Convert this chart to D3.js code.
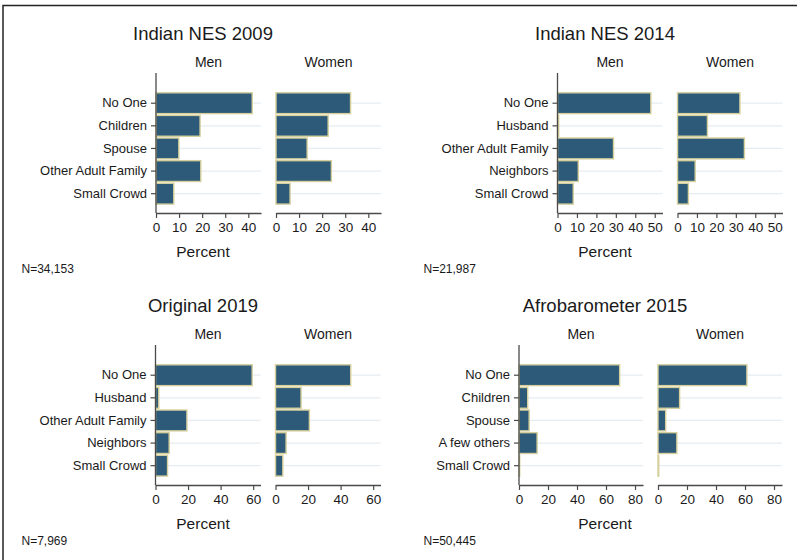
<!DOCTYPE html>
<html>
<head>
<meta charset="utf-8">
<script src="https://cdn.jsdelivr.net/npm/d3@7"></script>
<style>
  html, body { margin: 0; padding: 0; background: #fff; }
  svg { display: block; font-family: "Liberation Sans", Arial, Helvetica, sans-serif; }
</style>
</head>
<body>
<svg id="chart" width="797" height="560"></svg>
<script>
// Who was present during the interview, by survey and respondent sex (percent)
const surveyTitles = ["Indian NES 2009", "Indian NES 2014", "Original 2019", "Afrobarometer 2015"];
const sampleSizes = ["N=34,153", "N=21,987", "N=7,969", "N=50,445"];
const sexLabels = ["Men", "Women"];
const xAxisTitle = "Percent";

const nes2009Categories = ["No One", "Children", "Spouse", "Other Adult Family", "Small Crowd"];
const nes2009Men = [41.7, 19.1, 9.9, 19.4, 7.7];
const nes2009Women = [32.3, 22.6, 13.5, 24.0, 6.1];
const nes2009Ticks = [0, 10, 20, 30, 40];

const nes2014Categories = ["No One", "Husband", "Other Adult Family", "Neighbors", "Small Crowd"];
const nes2014Men = [48.0, 0.6, 28.8, 10.7, 8.1];
const nes2014Women = [32.1, 15.4, 34.4, 9.1, 5.6];
const nes2014Ticks = [0, 10, 20, 30, 40, 50];

const original2019Categories = ["No One", "Husband", "Other Adult Family", "Neighbors", "Small Crowd"];
const original2019Men = [59.4, 2.0, 19.3, 8.4, 7.4];
const original2019Women = [46.2, 15.7, 20.8, 6.5, 4.5];
const original2019Ticks = [0, 20, 40, 60];

const afro2015Categories = ["No One", "Children", "Spouse", "A few others", "Small Crowd"];
const afro2015Men = [69.4, 6.0, 7.0, 12.5, 0.5];
const afro2015Women = [61.3, 14.9, 5.3, 13.0, 0.5];
const afro2015Ticks = [0, 20, 40, 60, 80];

// Upper end of each survey's shared percent axis
const axisMax = [45.5, 54, 64.5, 85.5];

const surveys = [
  { title: surveyTitles[0], n: sampleSizes[0], cats: nes2009Categories, men: nes2009Men, women: nes2009Women, ticks: nes2009Ticks, max: axisMax[0] },
  { title: surveyTitles[1], n: sampleSizes[1], cats: nes2014Categories, men: nes2014Men, women: nes2014Women, ticks: nes2014Ticks, max: axisMax[1] },
  { title: surveyTitles[2], n: sampleSizes[2], cats: original2019Categories, men: original2019Men, women: original2019Women, ticks: original2019Ticks, max: axisMax[2] },
  { title: surveyTitles[3], n: sampleSizes[3], cats: afro2015Categories, men: afro2015Men, women: afro2015Women, ticks: afro2015Ticks, max: axisMax[3] }
];

// Placement of the four cells
const cells = [
  { left: 0,   top: 0,   plotLeft: 156,   subWidth: 105 },
  { left: 402, top: 0,   plotLeft: 557.5, subWidth: 105 },
  { left: 0,   top: 272, plotLeft: 155.5, subWidth: 105 },
  { left: 402, top: 272, plotLeft: 519,   subWidth: 124 }
];

const subGap = 15;
const axisTop = 73, axisBottom = 213;
const barFill = "#2e5a79", barStroke = "#d5cf9c";
const gridColor = "#e5ecf2", axisColor = "#4a4a4a", textColor = "#1a1a1a";

const svg = d3.select("#chart");

// outer frame (top and left edges)
svg.append("path")
  .attr("d", "M3,560 L3,5.5 L797,5.5")
  .attr("fill", "none")
  .attr("stroke", "#222")
  .attr("stroke-width", 1.5);

surveys.forEach((s, i) => {
  const c = cells[i];
  const g = svg.append("g").attr("transform", `translate(0,${c.top})`);
  const centerX = c.left + 203;

  g.append("text")
    .attr("x", centerX).attr("y", 39.5)
    .attr("text-anchor", "middle")
    .attr("font-size", 18.5)
    .attr("fill", textColor)
    .text(s.title);

  const y = d3.scaleBand()
    .domain(s.cats)
    .range([91.9, 205])
    .paddingInner(0.08)
    .paddingOuter(0.04);

  [s.men, s.women].forEach((vals, k) => {
    const x0 = c.plotLeft + k * (c.subWidth + subGap);
    const x = d3.scaleLinear().domain([0, s.max]).range([x0, x0 + c.subWidth]);
    const sub = g.append("g");

    sub.append("text")
      .attr("x", x0 + c.subWidth / 2).attr("y", 67)
      .attr("text-anchor", "middle")
      .attr("font-size", 14)
      .attr("fill", textColor)
      .text(sexLabels[k]);

    // horizontal grid at each category
    sub.selectAll("line.grid")
      .data(s.cats)
      .join("line")
      .attr("class", "grid")
      .attr("x1", x0).attr("x2", x0 + c.subWidth)
      .attr("y1", d => y(d) + y.bandwidth() / 2)
      .attr("y2", d => y(d) + y.bandwidth() / 2)
      .attr("stroke", gridColor)
      .attr("stroke-width", 1.2);

    sub.selectAll("rect.bar")
      .data(s.cats.map((cat, j) => ({ cat, v: vals[j] })))
      .join("rect")
      .attr("class", "bar")
      .attr("x", x(0))
      .attr("y", d => y(d.cat))
      .attr("width", d => x(d.v) - x(0))
      .attr("height", y.bandwidth())
      .attr("fill", barFill)
      .attr("stroke", barStroke)
      .attr("stroke-width", 1.4);

    // x axis
    const xAxis = sub.append("g")
      .attr("transform", `translate(0,${axisBottom})`)
      .call(d3.axisBottom(x).tickValues(s.ticks).tickSize(5).tickSizeOuter(0).tickPadding(4).tickFormat(d3.format("d")));
    xAxis.select(".domain").attr("stroke", axisColor).attr("stroke-width", 1.3);
    xAxis.selectAll(".tick line").attr("stroke", axisColor).attr("stroke-width", 1.2);
    xAxis.selectAll(".tick text")
      .attr("font-size", 13.5)
      .attr("fill", textColor)
      .attr("font-family", "Liberation Sans, Arial, sans-serif");

    if (k === 0) {
      sub.append("line")
        .attr("x1", x0).attr("x2", x0)
        .attr("y1", axisTop).attr("y2", axisBottom)
        .attr("stroke", axisColor)
        .attr("stroke-width", 1.3);
      const yAxis = sub.append("g")
        .attr("transform", `translate(${x0},0)`)
        .call(d3.axisLeft(y).tickSize(5).tickPadding(4));
      yAxis.select(".domain").remove();
      yAxis.selectAll(".tick line").attr("stroke", axisColor).attr("stroke-width", 1.2);
      yAxis.selectAll(".tick text")
        .attr("font-size", 13)
        .attr("fill", textColor)
        .attr("font-family", "Liberation Sans, Arial, sans-serif");
    }
  });

  g.append("text")
    .attr("x", centerX).attr("y", 257)
    .attr("text-anchor", "middle")
    .attr("font-size", 15.5)
    .attr("fill", textColor)
    .text(xAxisTitle);

  g.append("text")
    .attr("x", c.left + 21.5).attr("y", 273)
    .attr("font-size", 12)
    .attr("fill", textColor)
    .text(s.n);
});
</script>
</body>
</html>
